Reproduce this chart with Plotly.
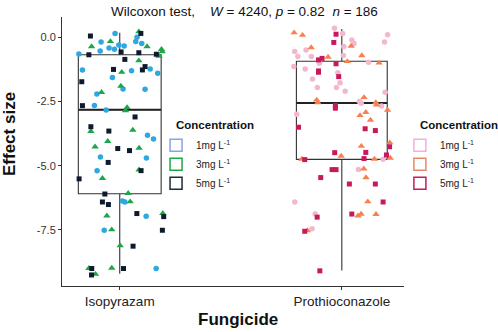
import plotly.graph_objects as go

# ---------------- data ----------------
fungicides = ["Isopyrazam", "Prothioconazole"]
fung_pos = [0, 1]
conc_labels = ["1mg L<sup>-1</sup>", "3mg L<sup>-1</sup>", "5mg L<sup>-1</sup>"]

# box statistics
box_q1 = [-6.09, -4.75]
box_median = [-2.82, -2.56]
box_q3 = [-0.68, -0.93]
box_low = [-9.20, -9.08]
box_high = [0.18, 0.32]
box_width = [0.373, 0.409]

# Isopyrazam points: effect size values and horizontal jitter offsets
iso_1mg_y = [0.15, 0.00, -0.18, -0.24, -0.30, -0.34, -0.16, -0.53, -0.42, -0.47, -0.65, -1.27,
             -1.30, -1.23, -1.40, -1.56, -2.01, -2.02, -2.21, -2.65, -2.83, -3.81, -3.96, -4.66,
             -4.70, -5.19, -6.37, -6.41, -6.97, -7.51, -9.00]
iso_1mg_dx = [-0.021, 0.078, -0.084, 0.099, -0.004, 0.020, 0.072, -0.088, -0.048, -0.024, -0.184, -0.168,
              0.053, 0.137, 0.171, -0.033, 0.015, 0.114, -0.103, -0.114, -0.061, 0.125, 0.152, -0.087,
              0.120, -0.102, 0.012, 0.023, 0.119, -0.070, 0.164]

iso_3mg_y = [0.22, -0.36, -0.16, -0.36, -0.47, -0.56, -0.73, -0.91, -1.36, -1.90, -2.14, -2.73,
             -2.85, -3.66, -3.61, -4.05, -4.26, -4.31, -5.16, -5.49, -6.07, -6.40, -6.85, -6.95,
             -7.49, -8.11, -8.99, -9.22, -8.98]
iso_3mg_dx = [0.086, -0.127, -0.042, 0.123, 0.188, 0.191, 0.177, 0.086, 0.009, 0.005, -0.082, 0.033,
              0.026, -0.130, 0.059, -0.054, -0.111, 0.087, 0.087, -0.078, 0.038, 0.047, 0.194, -0.058,
              -0.036, 0.002, -0.139, -0.109, -0.036]

iso_5mg_y = [0.15, 0.05, -0.57, -0.68, -0.60, -0.66, -0.86, -1.25, -1.14, -1.27, -1.73, -2.66,
             -3.10, -3.48, -3.65, -4.33, -4.41, -4.87, -5.19, -5.51, -6.10, -6.41, -6.51, -6.86,
             -6.98, -7.51, -8.13, -9.00, -9.25, -9.00]
iso_5mg_dx = [0.095, -0.132, 0.006, -0.139, 0.086, 0.165, 0.023, -0.028, 0.114, 0.102, -0.171, -0.168,
              0.069, -0.130, -0.049, -0.009, 0.044, -0.052, 0.096, -0.183, -0.067, -0.078, -0.051, 0.077,
              0.198, 0.192, 0.060, -0.126, -0.127, 0.017]

# Prothioconazole points
pro_1mg_y = [0.35, 0.15, 0.10, -0.11, -0.24, -0.18, -0.36, -0.55, -0.49, -0.75, -0.75, -0.71,
             -1.01, -0.97, -1.14, -1.23, -1.38, -1.62, -1.77, -1.95, -1.95, -2.10, -2.14, -2.50,
             -2.57, -2.67, -3.00, -4.75, -5.15, -6.41, -6.88, -7.45]
pro_1mg_dx = [-0.033, 0.004, 0.206, 0.045, 0.055, 0.192, 0.009, -0.212, -0.161, -0.198, -0.137, 0.007,
              -0.101, 0.120, -0.216, -0.165, -0.018, -0.132, -0.008, -0.110, -0.024, 0.015, 0.195, 0.079,
              0.087, 0.179, -0.203, 0.186, 0.075, -0.212, -0.120, -0.134]

pro_3mg_y = [0.18, 0.08, -0.40, -0.34, -0.77, -0.71, -0.94, -1.00, -2.34, -2.44, -2.54, -2.54,
             -2.63, -2.83, -3.04, -2.92, -3.22, -4.10, -4.24, -4.74, -4.62, -4.74, -4.70, -5.12,
             -5.46, -6.40, -6.95, -6.88, -6.89, -7.52]
pro_3mg_dx = [-0.215, -0.177, -0.138, 0.042, -0.062, 0.090, 0.025, 0.168, 0.100, -0.113, -0.108, 0.153,
              0.156, 0.206, 0.082, 0.108, 0.129, 0.216, 0.088, -0.180, -0.003, 0.147, 0.218, 0.099,
              0.109, 0.117, 0.073, 0.087, 0.154, -0.155]

pro_5mg_y = [0.12, -0.20, -0.82, -0.88, -1.03, -1.31, -1.36, -1.53, -2.66, -2.76, -3.50, -3.56,
             -3.63, -4.26, -4.49, -4.48, -4.58, -4.76, -4.72, -5.15, -5.15, -5.46, -5.71, -5.71,
             -6.41, -7.00, -6.88, -7.55, -9.09]
pro_5mg_dx = [-0.026, -0.036, -0.089, -0.105, -0.026, -0.105, -0.105, -0.014, -0.029, -0.029, -0.195, 0.105,
              0.151, 0.215, -0.032, 0.108, 0.201, -0.167, 0.100, -0.044, -0.026, -0.095, 0.034, 0.151,
              0.186, -0.111, 0.045, -0.167, -0.099]

y_tickvals = [0, -2.5, -5, -7.5]
y_ticktext = ["0.0", "-2.5", "-5.0", "-7.5"]

# ---------------- styles ----------------
FONT = "Liberation Sans, Arial, sans-serif"
point_colors = [["#2FA8DF", "#1DA64A", "#0E1B2E"], ["#F3B8CF", "#F9804E", "#C7195C"]]
legend_colors = [["#8AA0E8", "#1DA64A", "#1E2B3A"], ["#F2AEE0", "#E9876A", "#C7195C"]]
symbols = ["circle", "triangle-up", "square"]
sizes = [5.5, 6.5, 5]

fig = go.Figure()

# boxes
for i in range(2):
    fig.add_trace(go.Box(
        x=[fung_pos[i]], q1=[box_q1[i]], median=[box_median[i]], q3=[box_q3[i]],
        lowerfence=[box_low[i]], upperfence=[box_high[i]], width=box_width[i],
        line=dict(color="#333333", width=1.1), fillcolor="rgba(255,255,255,0)",
        whiskerwidth=0, boxpoints=False, showlegend=False, hoverinfo="skip"))
    # thicker median line
    fig.add_trace(go.Scatter(
        x=[fung_pos[i] - box_width[i] / 2, fung_pos[i] + box_width[i] / 2],
        y=[box_median[i], box_median[i]], mode="lines",
        line=dict(color="#222222", width=2), showlegend=False, hoverinfo="skip"))

groups = [
    [(iso_1mg_dx, iso_1mg_y), (iso_3mg_dx, iso_3mg_y), (iso_5mg_dx, iso_5mg_y)],
    [(pro_1mg_dx, pro_1mg_y), (pro_3mg_dx, pro_3mg_y), (pro_5mg_dx, pro_5mg_y)],
]
for i in range(2):
    for j in range(3):
        dx, ys = groups[i][j]
        fig.add_trace(go.Scatter(
            x=[fung_pos[i] + d for d in dx], y=ys, mode="markers",
            marker=dict(color=point_colors[i][j], symbol=symbols[j], size=sizes[j], line=dict(width=0)),
            showlegend=False, hoverinfo="skip"))

# legend glyphs (box icons), data placed outside visible x range
for i in range(2):
    for j in range(3):
        fig.add_trace(go.Box(
            x=[10, 10], y=[0, 1], name=conc_labels[j],
            line=dict(color=legend_colors[i][j], width=1.5),
            fillcolor="rgba(255,255,255,0.9)",
            legend="legend" if i == 0 else "legend2", showlegend=True, hoverinfo="skip"))

fig.update_layout(
    width=498, height=332,
    margin=dict(l=62, r=94, t=17, b=46, autoexpand=False),
    plot_bgcolor="white", paper_bgcolor="white",
    font=dict(family=FONT, color="#111111"),
    showlegend=True,
    legend=dict(x=0.275, y=0.577, xanchor="left", yanchor="top",
                font=dict(size=10, family=FONT, color="#222"), bgcolor="rgba(0,0,0,0)",
                itemwidth=30, tracegroupgap=0),
    legend2=dict(x=0.988, y=0.577, xanchor="left", yanchor="top",
                 font=dict(size=10, family=FONT, color="#222"), bgcolor="rgba(0,0,0,0)",
                 itemwidth=30, tracegroupgap=0),
    xaxis=dict(range=[-0.26, 1.28], tickvals=fung_pos, ticktext=fungicides,
               showgrid=False, zeroline=False, showline=True, linecolor="#333333", linewidth=1,
               ticks="outside", ticklen=3, tickcolor="#333333",
               tickfont=dict(size=13.5, color="#222222", family=FONT)),
    yaxis=dict(range=[-9.68, 0.79], tickvals=y_tickvals, ticktext=y_ticktext,
               showgrid=False, zeroline=False, showline=True, linecolor="#333333", linewidth=1,
               ticks="outside", ticklen=3, tickcolor="#333333",
               tickfont=dict(size=11, color="#333333", family=FONT)),
    boxmode="overlay",
    hovermode=False,
)

anns = [
    dict(text="Wilcoxon test,\u00a0\u00a0\u00a0\u00a0<i>W</i>\u00a0=\u00a04240,\u00a0<i>p</i>\u00a0=\u00a00.82\u00a0\u00a0<i>n</i>\u00a0=\u00a0186",
         x=0.535, y=1.0186, xref="paper", yref="paper", xanchor="center", yanchor="middle",
         showarrow=False, font=dict(size=13.5, family=FONT, color="#111")),
    dict(text="<b>Effect size</b>", x=-0.155, y=0.565, xref="paper", yref="paper",
         xanchor="center", yanchor="middle", textangle=-90, showarrow=False,
         font=dict(size=17, family=FONT, color="#111")),
    dict(text="<b>Fungicide</b>", x=0.515, y=-0.123, xref="paper", yref="paper",
         xanchor="center", yanchor="middle", showarrow=False,
         font=dict(size=17, family=FONT, color="#111")),
    dict(text="<b>Concentration</b>", x=0.327, y=0.599, xref="paper", yref="paper",
         xanchor="left", yanchor="middle", showarrow=False,
         font=dict(size=11.5, family=FONT, color="#111")),
    dict(text="<b>Concentration</b>", x=1.041, y=0.599, xref="paper", yref="paper",
         xanchor="left", yanchor="middle", showarrow=False,
         font=dict(size=11.5, family=FONT, color="#111")),
]
fig.update_layout(annotations=anns)

# remove the browser's default 8px body margin so the figure fills the window
fig.write_html("out.html",
               config={"displayModeBar": False},
               post_script="document.body.style.margin='0';document.body.style.overflow='hidden';")
